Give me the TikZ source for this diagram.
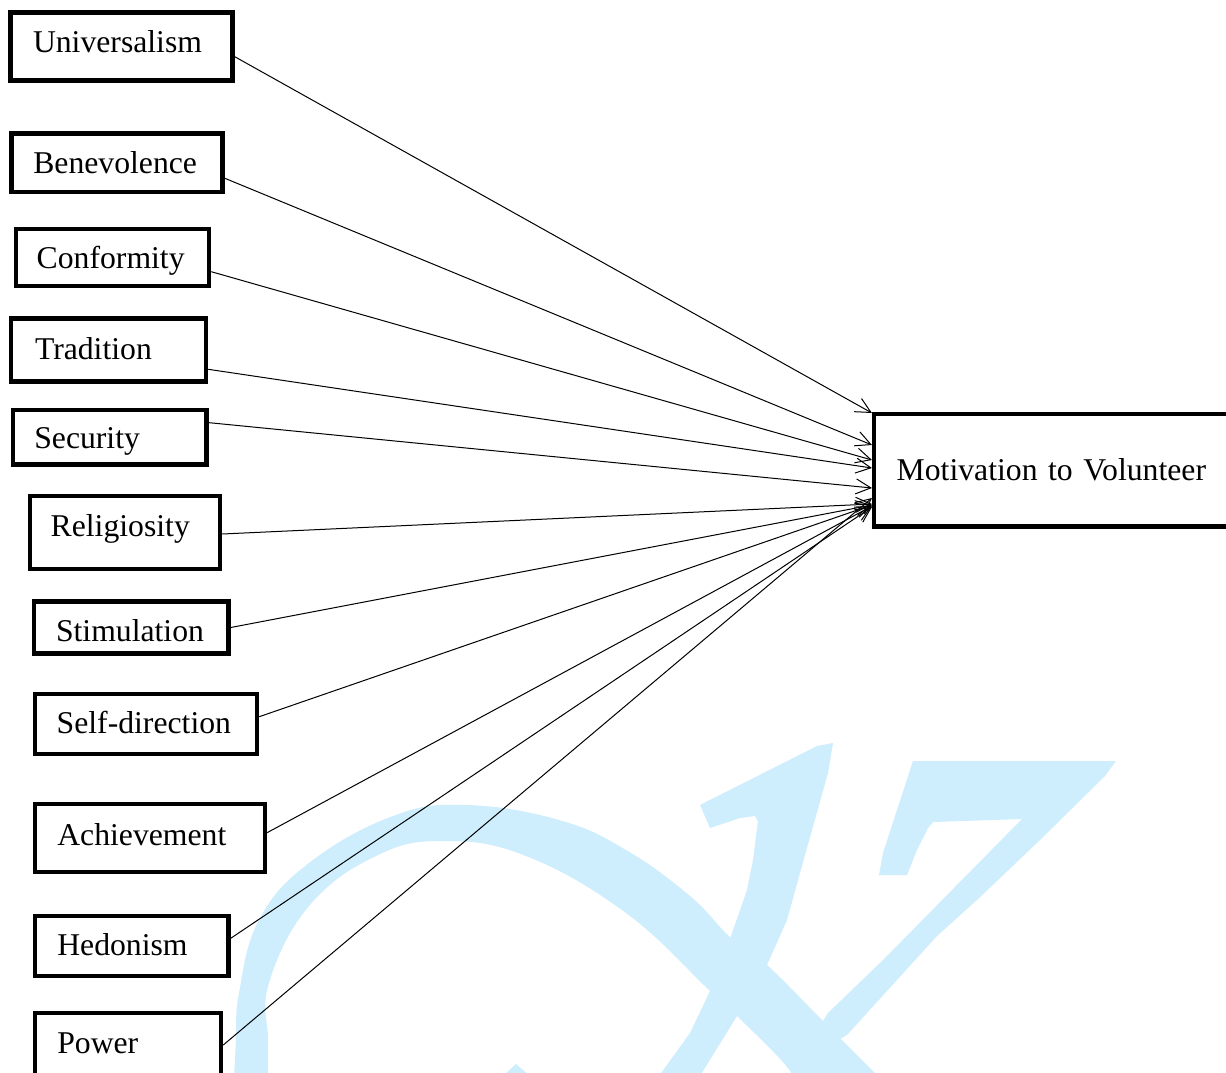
\documentclass[tikz,border=0pt]{standalone}
\usepackage{fontspec}
\setmainfont{Liberation Serif}
\usetikzlibrary{arrows.meta}
\definecolor{wmblue}{RGB}{207,238,253}
\tikzset{
  box/.style={draw, line width=4.5pt, fill=white, inner ysep=0pt, align=left,
    font=\fontsize{31.7}{38}\selectfont},
  conn/.style={line width=1pt, -{Straight Barb[length=15pt,width=15pt]}},
  wm/.style={fill=wmblue, draw=none}
}
% name, x1, y1, x2, y2 (border centres), text x, baseline y, text
\newcommand\putbox[8]{%
  \pgfmathsetmacro\bxw{#4-#2}%
  \pgfmathsetmacro\bxh{#5-#3}%
  \pgfmathsetmacro\bxi{#6-#2}%
  \pgfmathsetmacro\bxt{\bxw-2*\bxi}%
  \pgfmathsetmacro\bxhh{2+2*(#7-(#3+#5)/2)}%
  \node[box, minimum width=\bxw pt, minimum height=\bxh pt, inner xsep=\bxi pt,
    text width=\bxt pt, text height=\bxhh pt, text depth=2pt]
    (#1) at ({(#2+#4)/2},{(#3+#5)/2}) {\mbox{#8}};%
}
\begin{document}
\begin{tikzpicture}[x=1pt, y=-1pt]
\useasboundingbox (0,0) rectangle (1226,1073);
\clip (0,0) rectangle (1226,1073);
\fill[white] (0,0) rectangle (1226,1073);

% watermark
\path[wm] plot[smooth, tension=0.7] coordinates {(234,1080) (236,1040) (239,993) (259,920) (309,863) (393,816) (466,805) (559,820) (626,850) (690,896) (730,937) (767,965) (823,1021) (875,1073) (882,1080)}
  -- plot[smooth, tension=0.7] coordinates {(795,1080) (782,1061) (737,1016) (709,990) (626,913) (526,856) (443,841) (376,856) (309,906) (269,983) (268,1040) (268,1080)} -- cycle;
\path[wm] (503,1076) -- (516,1064) -- (530,1076) -- cycle;
\path[wm] (700,805) -- (817,746) -- (833,743) -- (828,773) -- (800,873) -- (787,920) -- (767,965) -- (737,1016) -- (700,1076) -- (659,1076) -- (690,1033) -- (710,991) -- (731,936) -- (747,890) -- (753,860) -- (758,821) -- (755,816) -- (740,818) -- (710,828) -- cycle;
\path[wm] (913,761) -- (1116,761) -- (1105,776) -- (1040,840) -- (977,900) -- (937,936) -- (847,1035) -- (840,1039) -- (823,1021) -- (828,1013) -- (883,960) -- (1022,819) -- (933,822) -- (928,828) -- (917,850) -- (907,875) -- (879,875) -- (883,853) -- cycle;

% boxes
\putbox{univ}{10.5}{12.5}{232.5}{80.5}{33}{53}{Universalism}
\putbox{bene}{11.5}{133.5}{222.5}{192}{33.3}{173}{Benevolence}
\putbox{conf}{15.8}{229}{209}{286}{36.7}{268}{Conformity}
\putbox{trad}{11}{318.3}{206}{381.7}{35}{359.3}{Tradition}
\putbox{secu}{13}{409.8}{206.5}{464.5}{34.3}{448.3}{Security}
\putbox{reli}{30}{495.8}{220}{569}{50.7}{536}{Religiosity}
\putbox{stim}{34}{601.5}{228.5}{653.5}{56}{641.7}{Stimulation}
\putbox{self}{35}{694}{257}{754}{56.7}{733.3}{Self-direction}
\putbox{achi}{35}{804}{265}{871.8}{57.3}{845}{Achievement}
\putbox{hedo}{35}{915.8}{228.5}{975.8}{57.3}{955}{Hedonism}
\putbox{powe}{35}{1013}{221}{1090}{57.3}{1053.3}{Power}
\putbox{moti}{874.2}{414.2}{1240}{526.5}{896.7}{480}{Motivation to Volunteer}

% connectors
\draw[conn] ([yshift=-10.2pt]univ.east) -- ([yshift=57.35pt]moti.west);
\draw[conn] ([yshift=-15.5pt]bene.east) -- ([yshift=25.35pt]moti.west);
\draw[conn] ([yshift=-14.2pt]conf.east) -- ([yshift=10.35pt]moti.west);
\draw[conn] ([yshift=-19.3pt]trad.east) -- ([yshift=2.35pt]moti.west);
\draw[conn] ([yshift=14.5pt]secu.east) -- ([yshift=-17.65pt]moti.west);
\draw[conn] ([yshift=-1.6pt]reli.east) -- ([yshift=-33.65pt]moti.west);
\draw[conn] (stim.east) -- ([yshift=-34.65pt]moti.west);
\draw[conn] ([yshift=7.3pt]self.east) -- ([yshift=-34.65pt]moti.west);
\draw[conn] ([yshift=5.3pt]achi.east) -- ([yshift=-35.65pt]moti.west);
\draw[conn] ([yshift=7.5pt]hedo.east) -- ([yshift=-36.65pt]moti.west);
\draw[conn] ([yshift=6.5pt]powe.east) -- ([yshift=-27.65pt]moti.west);
\end{tikzpicture}
\end{document}
